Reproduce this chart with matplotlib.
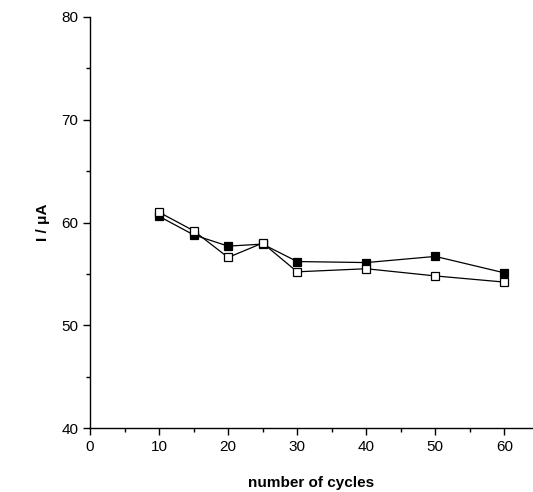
import matplotlib.pyplot as plt
from matplotlib.ticker import MultipleLocator

plt.rcParams['font.family'] = ['Liberation Sans', 'DejaVu Sans']

cycles = [10, 15, 20, 25, 30, 40, 50, 60]
current_filled = [60.6, 58.8, 57.7, 57.9, 56.2, 56.1, 56.7, 55.1]
current_open = [61.0, 59.2, 56.6, 58.0, 55.2, 55.5, 54.8, 54.2]

fig = plt.figure(figsize=(5.33, 4.92), dpi=100)
ax = fig.add_axes([90 / 533, 64 / 492, 442 / 533, 411 / 492])

ax.plot(cycles, current_filled, color='black', lw=0.9, marker='s', ms=6,
        mfc='black', mec='black', mew=0.9)
ax.plot(cycles, current_open, color='black', lw=0.9, marker='s', ms=6,
        mfc='white', mec='black', mew=0.9)

ax.set_xlim(0, 64)
ax.set_ylim(40, 80)
ax.xaxis.set_major_locator(MultipleLocator(10))
ax.xaxis.set_minor_locator(MultipleLocator(5))
ax.yaxis.set_major_locator(MultipleLocator(10))
ax.yaxis.set_minor_locator(MultipleLocator(5))
ax.tick_params(which='major', direction='out', length=5, width=1, labelsize=11)
ax.tick_params(which='minor', direction='out', length=3, width=1)

for s in ['top', 'right']:
    ax.spines[s].set_visible(False)
for s in ['left', 'bottom']:
    ax.spines[s].set_linewidth(1)

ax.set_xlabel('number of cycles', fontsize=11, fontweight='bold', labelpad=16)
ax.set_ylabel('I / \u03bcA', fontsize=11, fontweight='bold', labelpad=8)

fig.savefig('out.png', dpi=100)
